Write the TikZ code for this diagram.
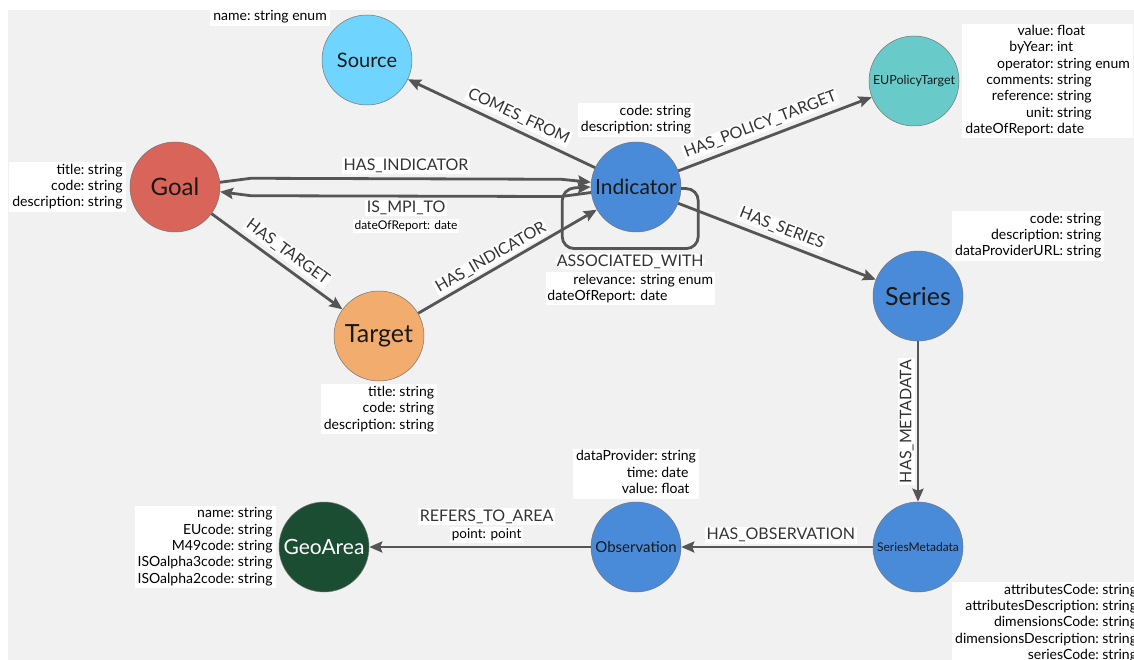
\documentclass[tikz,border=0pt]{standalone}
\usepackage{fontspec}
\setmainfont{Lato}
\usetikzlibrary{matrix,positioning,arrows.meta,calc}

\definecolor{panelgrey}{HTML}{F1F1F1}
\definecolor{edgegrey}{HTML}{555555}
\definecolor{sourceblue}{HTML}{6FD5FF}
\definecolor{goalred}{HTML}{D9645A}
\definecolor{indblue}{HTML}{4A8BD9}
\definecolor{policyteal}{HTML}{68CBC9}
\definecolor{targetorange}{HTML}{F1AC6E}
\definecolor{geogreen}{HTML}{1B4D33}

\tikzset{
entity/.style={
  circle,
  draw=black!55,
  line width=0.5pt,
  minimum size=90pt,
  inner sep=0pt,
  text=black!90
  },
rel/.style={
  draw=edgegrey,
  line width=2.8pt,
  -{Stealth[length=13pt,width=11pt,inset=2pt]}
  },
rellabel/.style={
  fill=white,
  inner sep=1.5pt,
  text=black!80,
  font=\fontsize{16}{18}\selectfont
  },
proplabel/.style={
  fill=white,
  inner sep=1.5pt,
  font=\fontsize{12}{14}\selectfont
  },
propmat/.style={
  matrix of nodes,
  fill=white,
  inner xsep=3pt,
  inner ysep=1pt,
  row sep=1.3pt,
  column sep=3.5pt,
  nodes={inner sep=0pt, text height=11pt, text depth=4pt, font=\fontsize{14}{16}\selectfont},
  column 1/.style={anchor=base east},
  column 2/.style={anchor=base west}
  }
}

\begin{document}
\begin{tikzpicture}[x=1pt, y=-1pt]
  \useasboundingbox (0,0) rectangle (1134,660);
  \clip (0,0) rectangle (1134,660);
  \fill[panelgrey] (8,10) rectangle (1150,670);

  \node[entity, fill=sourceblue, font=\fontsize{20}{24}\selectfont] (source) at (367,60) {Source};
  \node[entity, fill=goalred, font=\fontsize{24}{28}\selectfont] (goal) at (175,187) {Goal};
  \node[entity, fill=indblue, font=\fontsize{21}{25}\selectfont] (indicator) at (636,187) {Indicator};
  \node[entity, fill=policyteal, font=\fontsize{12.5}{15}\selectfont] (policy) at (914,81) {EUPolicyTarget};
  \node[entity, fill=indblue, font=\fontsize{25}{29}\selectfont] (series) at (918,296) {Series};
  \node[entity, fill=targetorange, font=\fontsize{25}{29}\selectfont] (target) at (379,336) {Target};
  \node[entity, fill=geogreen, text=white, font=\fontsize{21}{25}\selectfont] (geoarea) at (324,547) {GeoArea};
  \node[entity, fill=indblue, font=\fontsize{15}{18}\selectfont] (observation) at (636,547) {Observation};
  \node[entity, fill=indblue, font=\fontsize{12}{14}\selectfont] (seriesmeta) at (918,547) {SeriesMetadata};

  \matrix[propmat, above left=2pt and 5pt of source] (sourceprops) {
    name: & string enum \\
  };
  \matrix[propmat, left=4pt of goal] (goalprops) {
    title: & string \\
    code: & string \\
    description: & string \\
  };
  \matrix[propmat, above=5pt of indicator] (indicatorprops) {
    code: & string \\
    description: & string \\
  };
  \matrix[propmat, right=3pt of policy] (policyprops) {
    value: & float \\
    byYear: & int \\
    operator: & string enum \\
    comments: & string \\
    reference: & string \\
    unit: & string \\
    dateOfReport: & date \\
  };
  \matrix[propmat, above right=3pt and 2pt of series] (seriesprops) {
    code: & string \\
    description: & string \\
    dataProviderURL: & string \\
  };
  \matrix[propmat, below=3pt of target] (targetprops) {
    title: & string \\
    code: & string \\
    description: & string \\
  };
  \matrix[propmat, left=3pt of geoarea] (geoareaprops) {
    name: & string \\
    EUcode: & string \\
    M49code: & string \\
    ISOalpha3code: & string \\
    ISOalpha2code: & string \\
  };
  \matrix[propmat, above=3pt of observation] (observationprops) {
    dataProvider: & string \\
    time: & date \\
    value: & float \\
  };
  \matrix[propmat, below right=3pt and 2pt of seriesmeta] (seriesmetaprops) {
    attributesCode: & string \\
    attributesDescription: & string \\
    dimensionsCode: & string \\
    dimensionsDescription: & string \\
    seriesCode: & string \\
  };

  \draw[rel] (indicator) -- node[rellabel, sloped, above=4pt, pos=0.44] {COMES\_FROM} (source);
  \draw[rel] (goal.6) -- ++(31,-4)
    -- node[rellabel, midway, above=3pt] {HAS\_INDICATOR} ([shift={(-30,-3)}]indicator.174)
    -- (indicator.174);
  \draw[rel] (indicator.187) -- ++(-30,4)
    -- node[rellabel, midway, below=2pt] (mpi) {IS\_MPI\_TO} ([shift={(31,4)}]goal.-6)
    -- (goal.-6);
  \node[proplabel, below=1pt of mpi] (mpiprops) {dateOfReport: date};
  \draw[rel] (goal) -- node[rellabel, sloped, above=4pt, pos=0.52] {HAS\_TARGET} (target);
  \draw[rel] (target) -- node[rellabel, sloped, above=2pt, pos=0.44] {HAS\_INDICATOR} (indicator);
  \draw[rel] (indicator) -- node[rellabel, sloped, above=4pt, pos=0.45] {HAS\_POLICY\_TARGET} (policy);
  \draw[rel] (indicator) -- node[rellabel, sloped, above=4pt, pos=0.5] {HAS\_SERIES} (series);
  \draw[rel, rounded corners=12pt] (indicator.-2) -- ++(17,0) -- ++(0,60)
    -- node[rellabel, midway, below=3pt] (assoc) {ASSOCIATED\_WITH} ++(-136,0)
    -- ++(0,-60) -- (indicator.west);
  \node[fill=white, inner sep=1.5pt, align=left, font=\fontsize{14}{16.5}\selectfont,
    below=1pt of assoc] (assocprops) {\hspace*{26pt}relevance: string enum\\dateOfReport: date};
  \draw[rel] (series) -- node[rellabel, midway, xshift=-1.5pt, rotate=90, anchor=south] {HAS\_METADATA} (seriesmeta);
  \draw[rel] (seriesmeta) -- node[rellabel, pos=0.48, above=2pt] {HAS\_OBSERVATION} (observation);
  \draw[rel] (observation) -- node[proplabel, pos=0.47, above=3pt, font=\fontsize{13.5}{15}\selectfont] (refprops) {point: point} (geoarea);
  \node[rellabel, above=1pt of refprops] (refers) {REFERS\_TO\_AREA};

\end{tikzpicture}
\end{document}
